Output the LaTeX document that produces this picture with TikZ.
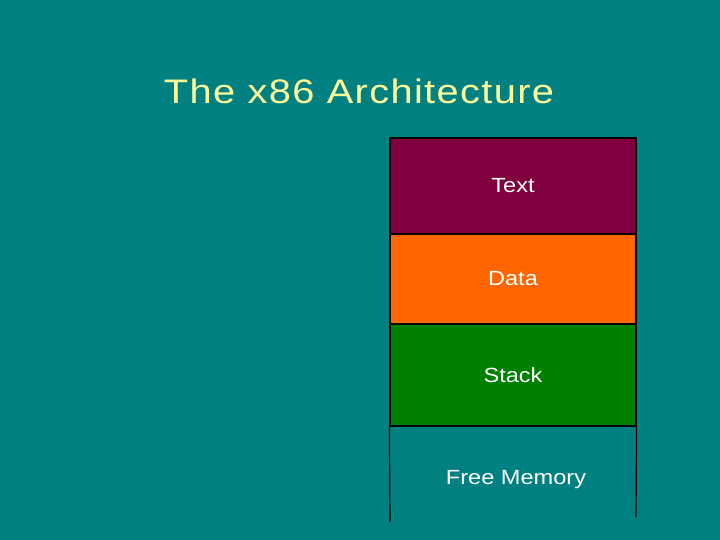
\documentclass[tikz,border=0pt]{standalone}
\usepackage{fontspec}
\setmainfont{Liberation Sans}
\newfontfamily\titlefont[FakeStretch=1.17,LetterSpace=4]{Liberation Sans}
\newfontfamily\segfont[FakeStretch=1.15]{Liberation Sans}
\definecolor{slide}{HTML}{008080}
\definecolor{textseg}{HTML}{800040}
\definecolor{dataseg}{HTML}{FF6600}
\definecolor{stackseg}{HTML}{008000}
\definecolor{titlecol}{HTML}{FFFF99}
\tikzset{
    title/.style={text=titlecol, inner sep=0pt, font=\titlefont\fontsize{34}{38}\selectfont},
    seg/.style={draw=black, line width=1.2pt, inner sep=0pt, minimum width=246pt,
        text=white, font=\segfont\fontsize{20.5}{24}\selectfont},
    wall/.style={draw=black, line width=1.2pt},
    free/.style={text=white, inner sep=0pt, font=\segfont\fontsize{20.5}{24}\selectfont}
}
\begin{document}
\begin{tikzpicture}[x=1pt,y=-1pt]
\fill[slide] (0,0) rectangle (720,540);
\node[title] (head) at (359,91) {The x86 Architecture};

\node[seg,fill=textseg,minimum height=96pt] (text) at (513,186) {\raisebox{-1.5pt}{Text}};
\node[seg,fill=dataseg,minimum height=90pt] (data) at (513,279) {\raisebox{-1.5pt}{Data}};
\node[seg,fill=stackseg,minimum height=102pt] (stack) at (513,375) {\raisebox{-1.5pt}{Stack}};

\node[free] (freemem) at (516,480) {Free Memory};
\coordinate (lbot) at (390,522);
\coordinate (rbot) at (636,517);
\draw[wall] (stack.south west) -- (lbot);
\draw[wall] (stack.south east) -- (rbot);
\end{tikzpicture}
\end{document}
